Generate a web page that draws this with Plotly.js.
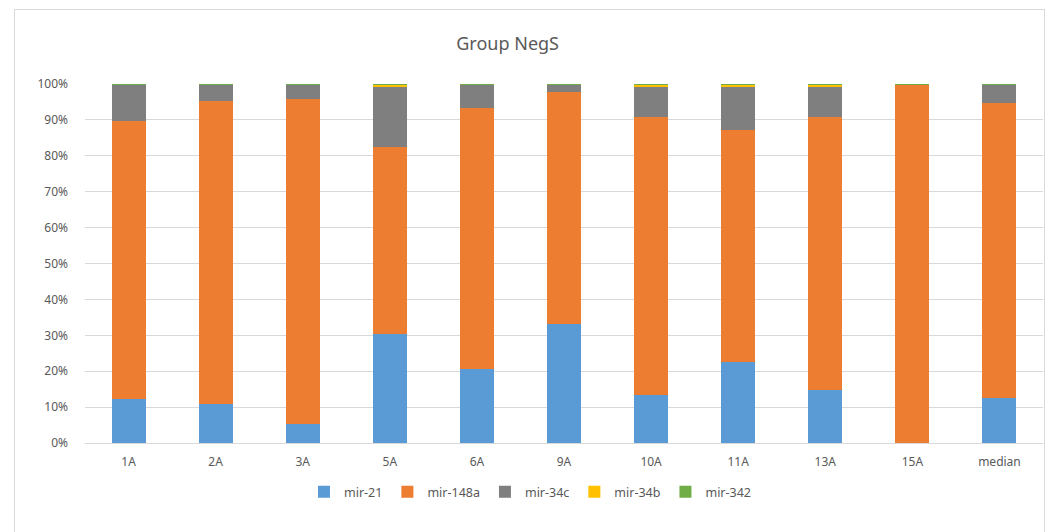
<!DOCTYPE html>
<html>
<head>
<meta charset="utf-8">
<script src="https://cdn.plot.ly/plotly-3.0.1.min.js"></script>
<style>
  html, body { margin: 0; padding: 0; background: #ffffff; }
  #wrap { position: relative; width: 1051px; height: 532px; overflow: hidden; }
  #frame { position: absolute; left: 14px; top: 9px; width: 1031px; height: 530px; border: 1px solid #d9d9d9; box-sizing: border-box; }
  #chart { position: absolute; left: 0; top: 0; width: 1051px; height: 532px; }
</style>
</head>
<body>
<div id="wrap">
  <div id="frame"></div>
  <div id="chart"></div>
</div>
<script>
const categories = ["1A", "2A", "3A", "5A", "6A", "9A", "10A", "11A", "13A", "15A", "median"];
const mir21   = [12.2, 10.8, 5.2, 30.3, 20.7, 33.2, 13.4, 22.5, 14.8, 0.0, 12.6];
const mir148a = [77.6, 84.6, 90.7, 52.2, 72.5, 64.5, 77.3, 64.8, 75.9, 99.7, 82.0];
const mir34c  = [9.9, 4.3, 3.8, 16.8, 6.5, 2.0, 8.6, 12.0, 8.6, 0.0, 5.1];
const mir34b  = [0.05, 0.05, 0.05, 0.5, 0.05, 0.05, 0.5, 0.5, 0.5, 0.0, 0.05];
const mir342  = [0.25, 0.25, 0.25, 0.2, 0.25, 0.25, 0.2, 0.2, 0.2, 0.3, 0.25];
const yTicks = [0, 10, 20, 30, 40, 50, 60, 70, 80, 90, 100];

const series = [
  {name: "mir-21", y: mir21, color: "#5B9BD5"},
  {name: "mir-148a", y: mir148a, color: "#ED7D31"},
  {name: "mir-34c", y: mir34c, color: "#7F7F7F"},
  {name: "mir-34b", y: mir34b, color: "#FFC000"},
  {name: "mir-342", y: mir342, color: "#70AD47"}
];

const traces = series.map(s => ({
  type: "bar",
  name: s.name,
  x: categories,
  y: s.y,
  marker: {color: s.color, line: {width: 0}},
  hoverinfo: "x+y+name"
}));

const font = {family: "'Noto Sans', 'Open Sans', sans-serif", color: "#595959", size: 12};

const layout = {
  width: 1051, height: 532,
  paper_bgcolor: "rgba(0,0,0,0)",
  plot_bgcolor: "rgba(0,0,0,0)",
  barmode: "stack",
  bargap: 0.61,
  margin: {l: 85, r: 8, t: 84, b: 89},
  font: font,
  title: {
    text: "Group NegS",
    font: {family: "'Noto Sans', 'Open Sans', sans-serif", size: 18, color: "#595959"},
    xref: "container",
    x: 0.483, xanchor: "center",
    yref: "container",
    y: 0.918, yanchor: "middle"
  },
  xaxis: {
    type: "category",
    showgrid: false,
    showline: true,
    linecolor: "#d9d9d9",
    linewidth: 1,
    ticks: "",
    tickfont: {size: 12, color: "#595959"},
    ticklabelstandoff: 8,
    fixedrange: true
  },
  yaxis: {
    range: [0, 100],
    tickvals: yTicks,
    ticktext: yTicks.map(v => v + "%"),
    showgrid: true,
    gridcolor: "#d9d9d9",
    gridwidth: 1,
    zeroline: false,
    showline: false,
    ticks: "",
    ticklabelstandoff: 16,
    tickfont: {size: 12, color: "#595959"},
    fixedrange: true
  },
  showlegend: true,
  legend: {
    orientation: "h",
    x: 0.465, xanchor: "center",
    y: -0.137, yanchor: "middle",
    font: {size: 12.5, color: "#595959"},
    traceorder: "normal",
    itemwidth: 30
  }
};

Plotly.newPlot("chart", traces, layout, {displayModeBar: false, staticPlot: true});
</script>
</body>
</html>
